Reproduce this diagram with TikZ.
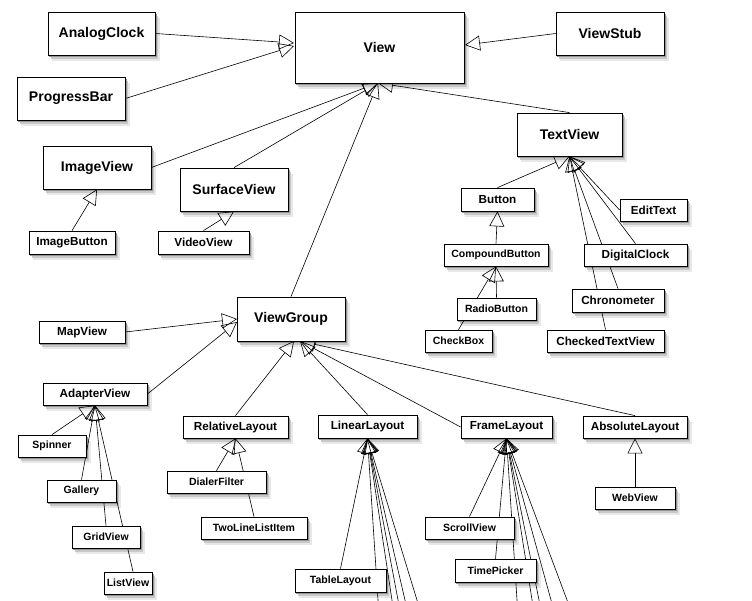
\documentclass[tikz,border=0pt]{standalone}
\usepackage{fontspec}
\setmainfont{Liberation Sans}
\usetikzlibrary{arrows.meta}
\definecolor{shA}{RGB}{232,232,232}
\definecolor{shB}{RGB}{200,200,200}
\definecolor{shC}{RGB}{150,150,150}
\pgfdeclarelayer{paper}
\pgfdeclarelayer{bg}
\pgfdeclarelayer{shadelayer}
\pgfsetlayers{paper,shadelayer,bg,main}
\newcommand\umlbox[6]{\node[#1,minimum width=#4pt,minimum height=#5pt] (#6) at (#2,#3) {#6};}
\begin{document}
\begin{tikzpicture}[x=1pt,y=-1pt,
  cls/.style={draw, line width=0.8pt, fill=white, inner sep=0pt},
  big/.style={cls, font=\bfseries\fontsize{14}{16}\selectfont},
  mid/.style={cls, font=\bfseries\fontsize{11.7}{13}\selectfont},
  sml/.style={cls, font=\bfseries\fontsize{10.5}{12}\selectfont},
  gen/.style={-{Triangle[open,length=15pt,width=15pt]}, line width=0.6pt}]
\begin{pgfonlayer}{paper}
\fill[white] (0,0) rectangle (752,600);
\end{pgfonlayer}
\useasboundingbox (0,0) rectangle (752,600);
% large boxes
\umlbox{big}{101.5}{33.5}{107}{43}{AnalogClock}
\umlbox{big}{71}{98.5}{108}{43}{ProgressBar}
\umlbox{big}{379.5}{47.5}{169}{71}{View}
\umlbox{big}{610}{33.5}{108}{43}{ViewStub}
\umlbox{big}{97}{167.5}{108}{43}{ImageView}
\umlbox{big}{234}{189.5}{108}{43}{SurfaceView}
\umlbox{big}{569.5}{134.5}{105}{43}{TextView}
\umlbox{big}{291}{319}{108}{44}{ViewGroup}
% medium boxes
\umlbox{mid}{72}{242.5}{86}{23}{ImageButton}
\umlbox{mid}{203.5}{242.5}{91}{23}{VideoView}
\umlbox{mid}{497.5}{199.5}{73}{23}{Button}
\umlbox{mid}{653.5}{210}{67}{22}{EditText}
\umlbox{mid}{635.5}{255}{103}{22}{DigitalClock}
\umlbox{mid}{618}{300.5}{92}{23}{Chronometer}
\umlbox{mid}{605.5}{341}{117}{22}{CheckedTextView}
\umlbox{mid}{82}{332}{86}{22}{MapView}
\umlbox{mid}{95}{394}{104}{22}{AdapterView}
\umlbox{mid}{235.5}{427}{105}{22}{RelativeLayout}
\umlbox{mid}{367.5}{426.5}{99}{23}{LinearLayout}
\umlbox{mid}{506.5}{427}{91}{22}{FrameLayout}
\umlbox{mid}{635}{427}{104}{22}{AbsoluteLayout}
% small boxes
\umlbox{sml}{496}{255}{104}{22}{CompoundButton}
\umlbox{sml}{216.5}{482}{99}{22}{DialerFilter}
\umlbox{sml}{496.5}{309}{79}{22}{RadioButton}
\umlbox{sml}{458.5}{341}{67}{22}{CheckBox}
\umlbox{sml}{52}{446}{68}{22}{Spinner}
\umlbox{sml}{81.5}{491}{69}{22}{Gallery}
\umlbox{sml}{106}{537}{68}{22}{GridView}
\umlbox{sml}{128}{583}{48}{22}{ListView}
\umlbox{sml}{254}{528}{106}{22}{TwoLineListItem}
\umlbox{sml}{340.5}{580.5}{91}{23}{TableLayout}
\umlbox{sml}{469.5}{528}{89}{22}{ScrollView}
\umlbox{sml}{495.5}{570.5}{81}{23}{TimePicker}
\umlbox{sml}{635}{498}{80}{22}{WebView}
% soft drop shadows (solid greys, lightest first)
\begin{pgfonlayer}{shadelayer}
\foreach \n in {AnalogClock,ProgressBar,View,ViewStub,ImageView,SurfaceView,TextView,ViewGroup,ImageButton,VideoView,Button,EditText,DigitalClock,Chronometer,CheckedTextView,MapView,AdapterView,RelativeLayout,LinearLayout,FrameLayout,AbsoluteLayout,CompoundButton,DialerFilter,RadioButton,CheckBox,Spinner,Gallery,GridView,ListView,TwoLineListItem,TableLayout,ScrollView,TimePicker,WebView}{
  \fill[shA] ([shift={(4.5,6)}]\n.south west) rectangle ([shift={(4.5,6)}]\n.north east);
  \fill[shB] ([shift={(3,4)}]\n.south west) rectangle ([shift={(3,4)}]\n.north east);
  \fill[shC] ([shift={(1.5,2)}]\n.south west) rectangle ([shift={(1.5,2)}]\n.north east);
}
\end{pgfonlayer}
% connector end points
\coordinate (vL1) at (294,43);
\coordinate (vL2) at (294,46);
\coordinate (vR) at (465,45);
\coordinate (vB) at (378,83);
\coordinate (vgL1) at (237,319);
\coordinate (vgL2) at (237,322);
\coordinate (vgB1) at (294,341);
\coordinate (vgB2) at (300,341);
\coordinate (ll1) at (379.3,620);
\coordinate (ll2) at (395.0,620);
\coordinate (ll3) at (401.8,620);
\coordinate (ll4) at (409.6,620);
\coordinate (ll5) at (423.1,620);
\coordinate (fl1) at (518.3,620);
\coordinate (fl2) at (535.2,620);
\coordinate (fl3) at (543.0,620);
\coordinate (fl4) at (556.5,620);
\coordinate (fl5) at (574.5,620);
\begin{pgfonlayer}{bg}
\clip (0,0) rectangle (752,600);
\draw[gen] (AnalogClock.east) -- (vL1);
\draw[gen] (ProgressBar.east) -- (vL2);
\draw[gen] (ViewStub.west) -- (vR);
\draw[gen] (ImageView.east) -- (vB);
\draw[gen] (SurfaceView.north) -- (vB);
\draw[gen] (ViewGroup.north) -- (vB);
\draw[gen] (TextView.north) -- (vB);
\draw[gen] (ImageButton.north) -- (ImageView.south);
\draw[gen] (VideoView.north) -- (SurfaceView.south);
\draw[gen] (Button.north) -- (TextView.south);
\draw[gen] (EditText.west) -- (TextView.south);
\draw[gen] (DigitalClock.north) -- (TextView.south);
\draw[gen] (Chronometer.north) -- (TextView.south);
\draw[gen] (CheckedTextView.north) -- (TextView.south);
\draw[gen] (CompoundButton.north) -- (Button.south);
\draw[gen] (RadioButton.north) -- (CompoundButton.south);
\draw[gen] (CheckBox.north) -- (CompoundButton.south);
\draw[gen] (MapView.east) -- (vgL1);
\draw[gen] (AdapterView.east) -- (vgL2);
\draw[gen] (Spinner.north) -- (AdapterView.south);
\draw[gen] (Gallery.north) -- (AdapterView.south);
\draw[gen] (GridView.north) -- (AdapterView.south);
\draw[gen] ([xshift=5pt]ListView.north) -- (AdapterView.south);
\draw[gen] (RelativeLayout.north) -- (vgB1);
\draw[gen] (LinearLayout.north) -- (vgB2);
\draw[gen] (FrameLayout.west) -- (vgB2);
\draw[gen] (AbsoluteLayout.north) -- (vgB2);
\draw[gen] (DialerFilter.north) -- (RelativeLayout.south);
\draw[gen] (TwoLineListItem.north) -- (RelativeLayout.south);
\draw[gen] (WebView.north) -- (AbsoluteLayout.south);
\draw[gen] (TableLayout.north) -- (LinearLayout.south);
\draw[gen] (ll1) -- (LinearLayout.south);
\draw[gen] (ll2) -- (LinearLayout.south);
\draw[gen] (ll3) -- (LinearLayout.south);
\draw[gen] (ll4) -- (LinearLayout.south);
\draw[gen] (ll5) -- (LinearLayout.south);
\draw[gen] (ScrollView.north) -- (FrameLayout.south);
\draw[gen] (TimePicker.north) -- (FrameLayout.south);
\draw[gen] (fl1) -- (FrameLayout.south);
\draw[gen] (fl2) -- (FrameLayout.south);
\draw[gen] (fl3) -- (FrameLayout.south);
\draw[gen] (fl4) -- (FrameLayout.south);
\draw[gen] (fl5) -- (FrameLayout.south);
\end{pgfonlayer}
\end{tikzpicture}
\end{document}
